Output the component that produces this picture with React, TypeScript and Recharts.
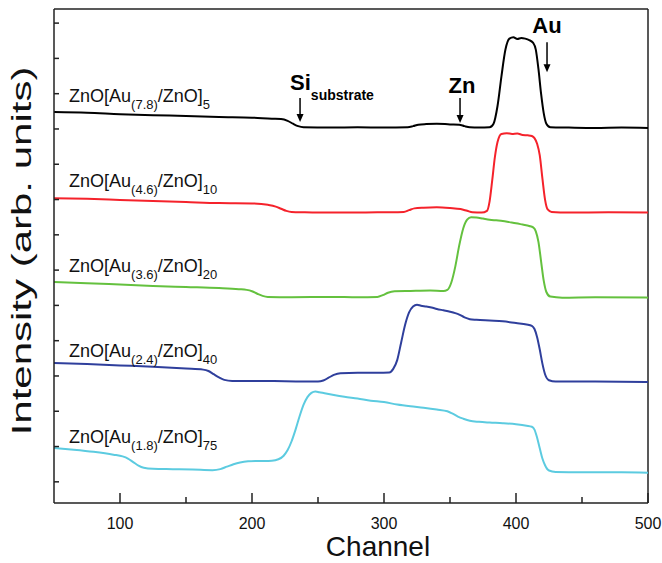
import React from 'react';
import { LineChart, Line, XAxis, YAxis, ReferenceLine, ReferenceDot, Label } from 'recharts';

const FONT = '"Liberation Sans", Arial, Helvetica, sans-serif';

const channelTicks = [100, 150, 200, 250, 300, 350, 400, 450, 500];
const intensityTicks = [6, 16, 26, 36, 46, 56, 66, 76, 86, 96, 106, 116, 126, 136];

// ZnO[Au(7.8)/ZnO]5
const ch5 = [50, 75, 100, 125, 150, 175, 200, 215, 222, 227, 231, 235, 239, 260, 280, 300, 318, 322, 326, 332, 340, 350, 357, 361, 365, 372, 380, 383, 386, 389, 392, 395, 398, 401, 404, 407, 410, 413, 415, 417, 419, 421, 423, 426, 440, 460, 480, 500];
const int5 = [110.8, 110.6, 110.2, 109.9, 109.7, 109.4, 109.2, 108.9, 108.8, 108.3, 107.5, 106.8, 106.5, 106.4, 106.5, 106.4, 106.5, 106.8, 107.2, 107.4, 107.5, 107.3, 107.2, 106.8, 106.5, 106.4, 106.5, 107.5, 112.5, 121.0, 128.5, 131.6, 132.0, 131.5, 131.8, 131.6, 131.2, 130.4, 128.5, 123.0, 116.0, 110.5, 107.5, 106.5, 106.4, 106.3, 106.4, 106.3];

// ZnO[Au(4.6)/ZnO]10
const ch10 = [50, 75, 100, 125, 150, 175, 200, 212, 218, 222, 226, 230, 240, 260, 280, 300, 315, 319, 323, 330, 340, 350, 358, 363, 367, 374, 378, 380, 382, 384, 386, 389, 393, 397, 401, 405, 409, 412, 414, 416, 418, 420, 422, 424, 427, 440, 470, 500];
const int10 = [86.4, 86.2, 85.9, 85.6, 85.3, 85.0, 84.9, 84.5, 84.0, 83.4, 82.8, 82.5, 82.4, 82.3, 82.3, 82.4, 82.5, 83.0, 83.5, 83.7, 83.8, 83.6, 83.3, 82.8, 82.4, 82.3, 82.8, 85.5, 91.5, 98.0, 102.3, 104.6, 104.8, 104.6, 104.7, 104.3, 104.2, 104.0, 103.4, 101.8, 98.5, 92.0, 86.0, 83.2, 82.5, 82.3, 82.4, 82.3];

// ZnO[Au(3.6)/ZnO]20
const ch20 = [50, 75, 100, 125, 150, 175, 190, 196, 200, 204, 208, 212, 230, 260, 280, 295, 299, 303, 308, 320, 335, 345, 348, 351, 354, 357, 360, 363, 366, 370, 375, 380, 385, 390, 395, 400, 405, 410, 413, 415, 417, 419, 421, 423, 426, 435, 460, 500];
const int20 = [62.6, 62.3, 61.9, 61.5, 61.2, 60.9, 60.6, 60.4, 60.0, 59.3, 58.7, 58.4, 58.3, 58.4, 58.3, 58.4, 58.9, 59.6, 60.0, 60.1, 60.2, 60.1, 60.4, 62.5, 67.0, 73.0, 77.8, 80.3, 81.0, 80.9, 80.6, 80.3, 80.1, 79.9, 79.6, 79.3, 78.9, 78.5, 78.1, 77.0, 74.0, 68.5, 63.0, 59.8, 58.5, 58.2, 58.3, 58.2];

// ZnO[Au(2.4)/ZnO]40
const ch40 = [50, 75, 100, 125, 150, 163, 167, 171, 175, 179, 185, 200, 225, 250, 254, 258, 262, 267, 280, 295, 304, 307, 310, 313, 316, 319, 322, 325, 328, 332, 336, 340, 345, 350, 354, 357, 361, 365, 370, 380, 390, 400, 408, 412, 414, 416, 418, 420, 422, 425, 430, 460, 500];
const int40 = [39.7, 39.4, 39.0, 38.6, 38.1, 37.8, 37.4, 36.5, 35.6, 34.9, 34.6, 34.6, 34.5, 34.4, 34.7, 35.5, 36.3, 36.8, 36.9, 36.9, 37.0, 38.0, 40.5, 45.5, 50.5, 54.0, 55.7, 56.2, 55.9, 55.7, 55.4, 55.0, 54.6, 54.2, 53.8, 53.4, 52.6, 52.1, 51.9, 51.7, 51.5, 51.0, 50.6, 50.2, 49.3, 47.0, 43.5, 39.5, 36.5, 34.8, 34.4, 34.4, 34.3];

// ZnO[Au(1.8)/ZnO]75
const ch75 = [50, 65, 80, 95, 102, 106, 110, 114, 118, 125, 140, 155, 170, 176, 181, 186, 191, 197, 205, 215, 220, 224, 227, 230, 233, 236, 239, 242, 245, 248, 251, 255, 262, 270, 280, 290, 300, 310, 320, 330, 340, 348, 352, 356, 360, 365, 372, 380, 390, 400, 408, 412, 414, 416, 418, 420, 422, 425, 430, 450, 480, 500];
const int75 = [15.6, 15.1, 14.5, 13.7, 13.2, 12.6, 11.6, 10.6, 10.0, 9.7, 9.6, 9.5, 9.3, 9.6, 10.3, 11.0, 11.5, 11.8, 11.9, 12.0, 12.4, 13.4, 15.0, 17.5, 20.8, 24.5, 27.8, 30.0, 31.2, 31.6, 31.4, 31.1, 30.6, 30.1, 29.6, 29.0, 28.6, 27.9, 27.4, 27.0, 26.5, 26.0, 25.3, 24.5, 23.9, 23.3, 23.0, 22.8, 22.6, 22.3, 21.9, 21.6, 20.8, 18.5, 15.5, 12.6, 10.7, 9.2, 8.8, 8.7, 8.7, 8.6];

const thickness = ['(7.8)', '(4.6)', '(3.6)', '(2.4)', '(1.8)'];
const repeats = ['5', '10', '20', '40', '75'];
const colors = ['#000000', '#f5222b', '#64c13e', '#2f3f9c', '#5ccbe0'];
const channels = [ch5, ch10, ch20, ch40, ch75];
const intensities = [int5, int10, int20, int40, int75];

const series = channels.map((ch, i) => ({
  key: repeats[i],
  color: colors[i],
  data: ch.map((c, j) => ({ ch: c, v: intensities[i][j] })),
}));

// where the sample names sit (intensity of their baseline)
const labelAt = [113.6, 89.6, 65.5, 41.4, 17.0];

const XTick = (props: any) => {
  const { x, y, payload } = props;
  const major = payload.value % 100 === 0;
  return (
    <g>
      <line x1={x} y1={y} x2={x} y2={y - (major ? 10 : 6)} stroke="#222" strokeWidth={1.5} />
      {major && (
        <text x={x} y={y + 26} textAnchor="middle" fontFamily={FONT} fontSize={16} fill="#111">
          {payload.value}
        </text>
      )}
    </g>
  );
};

const YTick = (props: any) => {
  const { x, y } = props;
  return <line x1={x} y1={y} x2={x + 5} y2={y} stroke="#222" strokeWidth={1.5} />;
};

const SampleName = ({ cx, cy, sub, rep }: any) => (
  <text x={cx} y={cy} fontFamily={FONT} fontSize={18} fill="#111">
    <tspan>ZnO[Au</tspan>
    <tspan fontSize={13} dy={7}>{sub}</tspan>
    <tspan dy={-7}>/ZnO]</tspan>
    <tspan fontSize={13} dy={7}>{rep}</tspan>
  </text>
);

const DownArrow = ({ cx, cy, len }: any) => (
  <g>
    <line x1={cx} y1={cy - len} x2={cx} y2={cy - 6} stroke="#000" strokeWidth={1.5} />
    <polygon points={`${cx - 3.5},${cy - 8} ${cx + 3.5},${cy - 8} ${cx},${cy}`} fill="#000" />
  </g>
);

const SiMark = ({ cx, cy }: any) => (
  <g>
    <DownArrow cx={cx} cy={cy} len={24} />
    <text x={cx - 10} y={cy - 32} fontFamily={FONT} fontWeight="bold" fontSize={22} fill="#000">
      Si<tspan fontSize={14} dy={10}>substrate</tspan>
    </text>
  </g>
);

const ZnMark = ({ cx, cy }: any) => (
  <g>
    <DownArrow cx={cx} cy={cy} len={25} />
    <text x={cx + 2} y={cy - 30} textAnchor="middle" fontFamily={FONT} fontWeight="bold" fontSize={22} fill="#000">
      Zn
    </text>
  </g>
);

const AuMark = ({ cx, cy }: any) => (
  <g>
    <DownArrow cx={cx} cy={cy} len={30} />
    <text x={cx} y={cy - 39} textAnchor="middle" fontFamily={FONT} fontWeight="bold" fontSize={22} fill="#000">
      Au
    </text>
  </g>
);

export default function App() {
  return (
    <div style={{ position: 'absolute', left: 0, top: 0, background: '#fff' }}>
      <LineChart width={662} height={563} margin={{ top: 9, right: 14, bottom: 0, left: 0 }}>
        <XAxis
          type="number"
          dataKey="ch"
          domain={[50, 500]}
          ticks={channelTicks}
          interval={0}
          height={60}
          tickSize={0}
          tickMargin={0}
          tick={<XTick />}
          axisLine={{ stroke: '#222', strokeWidth: 1.5 }}
          allowDataOverflow
        >
          <Label
            content={(p: any) => (
              <text
                x={p.viewBox.x + p.viewBox.width / 2 + 27}
                y={p.viewBox.y + 53}
                textAnchor="middle"
                fontFamily={FONT}
                fontSize={28}
                fill="#111"
              >
                Channel
              </text>
            )}
          />
        </XAxis>
        <YAxis
          type="number"
          domain={[0, 140]}
          ticks={intensityTicks}
          interval={0}
          width={54}
          tickSize={0}
          tickMargin={0}
          tick={<YTick />}
          axisLine={{ stroke: '#222', strokeWidth: 1.5 }}
          allowDataOverflow
        >
          <Label
            content={(p: any) => (
              <text
                transform={`translate(${p.viewBox.x + 31},${p.viewBox.y + p.viewBox.height / 2 - 5}) rotate(-90) scale(1.5,1)`}
                textAnchor="middle"
                fontFamily={FONT}
                fontSize={28}
                fill="#111"
              >
                Intensity (arb. units)
              </text>
            )}
          />
        </YAxis>
        <ReferenceLine y={140} stroke="#222" strokeWidth={1.5} />
        <ReferenceLine x={500} stroke="#222" strokeWidth={1.5} />
        {series.map((s) => (
          <Line
            key={s.key}
            data={s.data}
            dataKey="v"
            type="monotone"
            stroke={s.color}
            strokeWidth={2}
            dot={false}
            activeDot={false}
            isAnimationActive={false}
          />
        ))}
        {labelAt.map((v, i) => (
          <ReferenceDot
            key={'lbl' + i}
            x={61.4}
            y={v}
            shape={(p: any) => <SampleName cx={p.cx} cy={p.cy} sub={thickness[i]} rep={repeats[i]} />}
          />
        ))}
        <ReferenceDot x={236.4} y={108.0} shape={(p: any) => <SiMark cx={p.cx} cy={p.cy} />} />
        <ReferenceDot x={357.6} y={107.7} shape={(p: any) => <ZnMark cx={p.cx} cy={p.cy} />} />
        <ReferenceDot x={423.5} y={122.1} shape={(p: any) => <AuMark cx={p.cx} cy={p.cy} />} />
      </LineChart>
    </div>
  );
}
